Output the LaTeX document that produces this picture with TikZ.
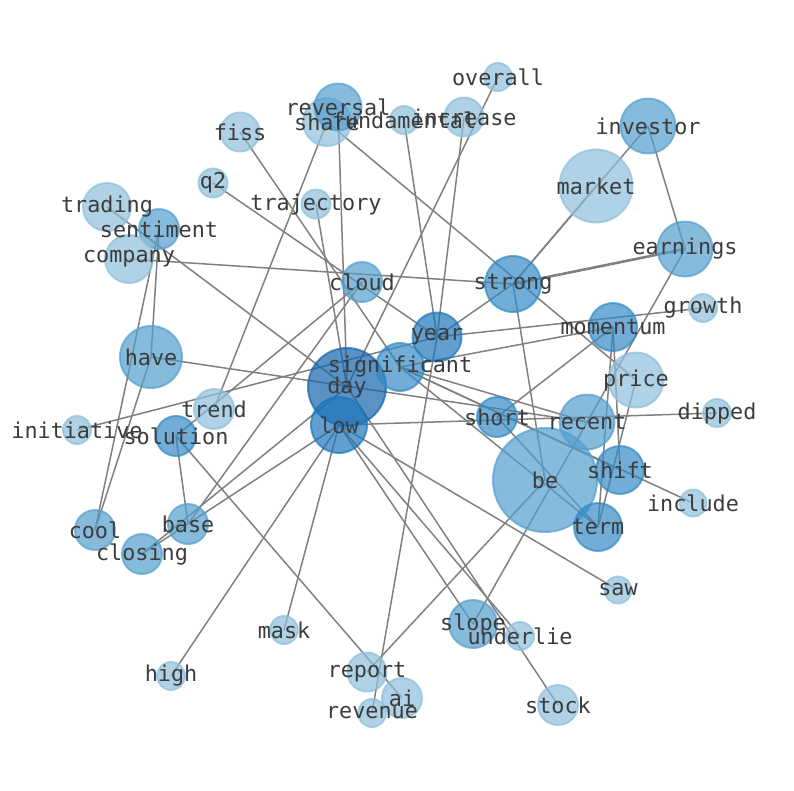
\documentclass[tikz,border=0pt]{standalone}
\usepackage{fontspec}
\setmonofont{DejaVu Sans Mono}
\definecolor{ca}{RGB}{141,191,219}
\definecolor{cb}{RGB}{84,158,205}
\definecolor{cc}{RGB}{52,138,196}
\definecolor{cd}{RGB}{30,118,186}
\definecolor{ce}{RGB}{20,100,172}
\definecolor{edgec}{RGB}{128,128,128}
\definecolor{txt}{RGB}{60,60,60}
\tikzset{
  nd/.style args={#1/#2}{circle, inner sep=0pt, minimum size=#2pt, fill=#1, draw=#1, opacity=0.7, line width=2pt},
  lbl/.style={inner sep=0pt, text=txt, font=\fontsize{21.8}{26}\selectfont\ttfamily},
  edge/.style={draw=edgec, line width=1.5pt},
  wedge/.style={draw=edgec, line width=2.6pt}
}
\begin{document}
\begin{tikzpicture}[x=1pt,y=-1pt]
\useasboundingbox (0,0) rectangle (794,790);
% positions
\coordinate (overall) at (498,77);
\coordinate (share) at (327,122);
\coordinate (reversal) at (338,107);
\coordinate (fundamental) at (404,120);
\coordinate (increase) at (464,117);
\coordinate (investor) at (648,126);
\coordinate (fiss) at (240,132);
\coordinate (q2) at (213,183);
\coordinate (trajectory) at (316,204);
\coordinate (market) at (596,186);
\coordinate (trading) at (107,207);
\coordinate (sentiment) at (159,229);
\coordinate (company) at (129,259);
\coordinate (cloud) at (362,282);
\coordinate (strong) at (513,284);
\coordinate (earnings) at (685,249);
\coordinate (growth) at (703,308);
\coordinate (momentum) at (613,327);
\coordinate (year) at (437,337);
\coordinate (have) at (151,357);
\coordinate (significant) at (400,367);
\coordinate (day) at (347,387);
\coordinate (price) at (636,380);
\coordinate (trend) at (214,409);
\coordinate (initiative) at (77,430);
\coordinate (solution) at (176,436);
\coordinate (low) at (339,425);
\coordinate (short) at (497,417);
\coordinate (recent) at (587,422);
\coordinate (dipped) at (717,413);
\coordinate (be) at (545,480);
\coordinate (shift) at (620,470);
\coordinate (include) at (693,503);
\coordinate (term) at (598,527);
\coordinate (cool) at (95,530);
\coordinate (base) at (188,524);
\coordinate (closing) at (142,554);
\coordinate (saw) at (618,590);
\coordinate (mask) at (284,630);
\coordinate (slope) at (473,624);
\coordinate (underlie) at (520,636);
\coordinate (high) at (171,676);
\coordinate (report) at (367,672);
\coordinate (ai) at (402,698);
\coordinate (revenue) at (372,713);
\coordinate (stock) at (558,705);
% edges
\foreach \a/\b in {share/trend, reversal/day, share/price, q2/year, fiss/significant,
  trading/day, sentiment/cool, sentiment/have, have/cool, company/strong,
  cloud/solution, cloud/base, day/closing, low/closing, solution/base, solution/ai,
  high/low, mask/low, report/be, slope/earnings, revenue/year, fundamental/year,
  increase/year, overall/day, low/slope, low/underlie, day/stock, low/saw,
  year/growth, significant/momentum, initiative/year, have/recent, low/dipped,
  strong/be, strong/investor, strong/market, year/strong, investor/earnings,
  momentum/short, short/term, significant/recent, significant/shift,
  significant/include, significant/term, momentum/term, momentum/shift,
  term/price, trajectory/day}
  {\draw[edge] (\a) -- (\b);}
\draw[wedge] (strong) -- (earnings);
% nodes
\foreach \n/\c/\d in {overall/ca/28, share/ca/48, reversal/cb/47, fundamental/ca/28,
  increase/ca/39, investor/cb/55, fiss/ca/39, q2/ca/29, trajectory/ca/29,
  market/ca/73, trading/ca/48, sentiment/cb/40, company/ca/48, cloud/cb/40,
  strong/cc/56, earnings/cb/55, growth/ca/28, momentum/cc/48, year/cd/49,
  have/cb/62, day/ce/78, significant/cc/48, price/ca/55, trend/ca/40,
  initiative/ca/28, solution/cc/40, low/cd/56, short/cc/40, recent/cb/55,
  dipped/ca/28, be/cb/104, shift/cc/48, include/ca/27, term/cc/48, cool/cb/40,
  base/cb/40, closing/cb/40, saw/ca/27, mask/ca/28, slope/cb/48, underlie/ca/28,
  high/ca/28, report/ca/39, ai/ca/40, revenue/ca/28, stock/ca/40}
  {\node[nd=\c/\d] (\n-c) at (\n) {};}
% labels
\foreach \n in {overall, share, reversal, fundamental, increase, investor, fiss, q2,
  trajectory, market, trading, sentiment, company, cloud, strong, earnings, growth,
  momentum, year, have, day, significant, price, trend, initiative, solution, low,
  short, recent, dipped, be, shift, include, term, cool, base, closing, saw, mask,
  slope, underlie, high, report, ai, revenue, stock}
  {\node[lbl] (\n-t) at (\n) {\n};}
\end{tikzpicture}
\end{document}
